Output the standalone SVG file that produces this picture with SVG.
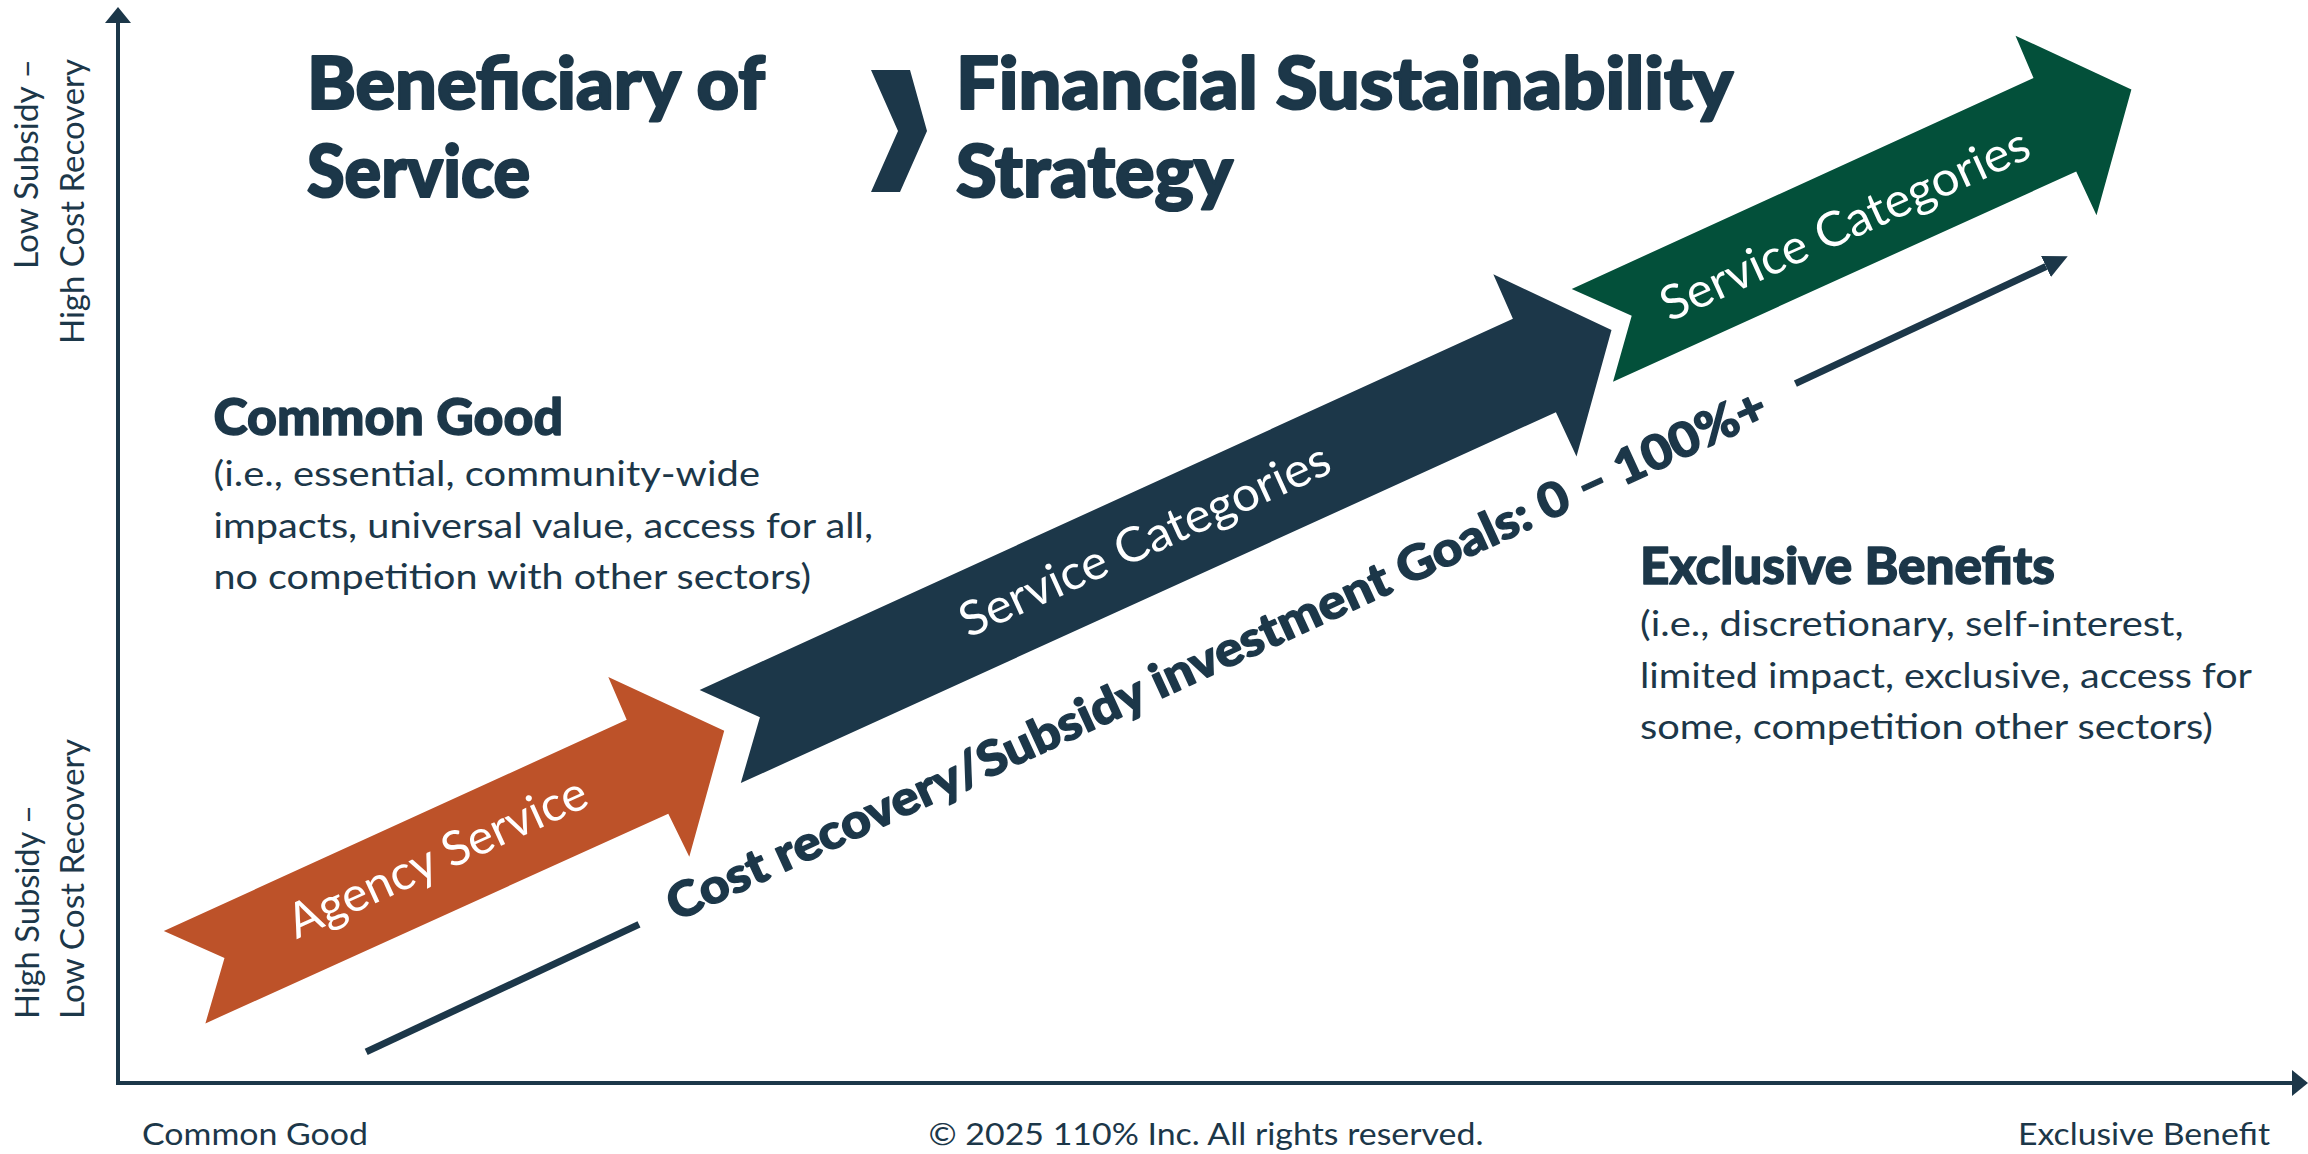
<svg xmlns="http://www.w3.org/2000/svg" width="2308" height="1154" viewBox="0 0 2308 1154">
  <style>
    .navy { fill: #1C3749; }
    .orange { fill: #BD5229; }
    .green { fill: #03503A; }
    .title { font-family: Lato, "Liberation Sans", sans-serif; font-weight: 900; font-size: 72px; fill: #1C3749; stroke: #1C3749; stroke-width: 2.2px; stroke-linejoin: round; }
    .head { font-family: Lato, "Liberation Sans", sans-serif; font-weight: 900; font-size: 52px; fill: #1C3749; stroke: #1C3749; stroke-width: 1.4px; stroke-linejoin: round; }
    .body { font-family: Lato, "Liberation Sans", sans-serif; font-size: 35px; fill: #1C3749; }
    .axis-label { font-family: Lato, "Liberation Sans", sans-serif; font-size: 32px; fill: #1C3749; }
    .foot { font-family: Lato, "Liberation Sans", sans-serif; font-size: 31px; fill: #1C3749; }
    .arrow-label { font-family: Lato, "Liberation Sans", sans-serif; font-size: 48px; fill: #FFFFFF; }
    .goal { font-family: Lato, "Liberation Sans", sans-serif; font-weight: 900; font-size: 48px; fill: #1C3749; stroke: #1C3749; stroke-width: 1.4px; stroke-linejoin: round; }
    .axis { stroke: #1C3749; stroke-width: 4; fill: none; }
    .conn { stroke: #1C3749; stroke-width: 7; fill: none; stroke-linecap: butt; }
  </style>
  <defs>
    <marker id="axisHead" markerUnits="userSpaceOnUse" viewBox="0 0 16 26" refX="0" refY="13" markerWidth="16" markerHeight="26" orient="auto">
      <path d="M0,0 L16,13 L0,26 z" fill="#1C3749"/>
    </marker>
    <marker id="connHead" markerUnits="userSpaceOnUse" viewBox="0 0 24 24" refX="0" refY="12" markerWidth="24" markerHeight="24" orient="auto">
      <path d="M0,0.4 L24,12 L0,23.6 z" fill="#1C3749"/>
    </marker>
  </defs>

  <rect x="0" y="0" width="2308" height="1154" fill="#FFFFFF"/>

  <!-- Axes -->
  <g id="axes">
    <line class="axis" x1="118" y1="1085" x2="118" y2="23" marker-end="url(#axisHead)"/>
    <line class="axis" x1="116" y1="1083" x2="2292" y2="1083" marker-end="url(#axisHead)"/>
  </g>

  <!-- Axis labels -->
  <g id="y-axis-top-label">
    <text class="axis-label" transform="translate(38,59) rotate(-90)" text-anchor="end" textLength="210" lengthAdjust="spacingAndGlyphs">Low Subsidy –</text>
    <text class="axis-label" transform="translate(84,59) rotate(-90)" text-anchor="end" textLength="285" lengthAdjust="spacingAndGlyphs">High Cost Recovery</text>
  </g>
  <g id="y-axis-bottom-label">
    <text class="axis-label" transform="translate(38.5,1019) rotate(-90)" text-anchor="start" textLength="214" lengthAdjust="spacingAndGlyphs">High Subsidy –</text>
    <text class="axis-label" transform="translate(84,1019) rotate(-90)" text-anchor="start" textLength="280" lengthAdjust="spacingAndGlyphs">Low Cost Recovery</text>
  </g>
  <g id="x-axis-labels">
    <text class="foot" x="142" y="1145" textLength="226" lengthAdjust="spacingAndGlyphs">Common Good</text>
    <text class="foot" x="928.5" y="1145" textLength="555" lengthAdjust="spacingAndGlyphs">© 2025 110% Inc. All rights reserved.</text>
    <text class="foot" x="2018" y="1145" textLength="252" lengthAdjust="spacingAndGlyphs">Exclusive Benefit</text>
  </g>

  <!-- Title -->
  <g id="title-beneficiary">
    <text class="title" x="307" y="109" textLength="458" lengthAdjust="spacingAndGlyphs">Beneficiary of</text>
    <text class="title" x="307" y="197" textLength="223" lengthAdjust="spacingAndGlyphs">Service</text>
  </g>
  <g id="title-chevron">
    <polygon class="navy" points="871,70 910,70 927,131 900,192 871,192 898,131"/>
  </g>
  <g id="title-strategy">
    <text class="title" x="956" y="109" textLength="777" lengthAdjust="spacingAndGlyphs">Financial Sustainability</text>
    <text class="title" x="956" y="197" textLength="277" lengthAdjust="spacingAndGlyphs">Strategy</text>
  </g>

  <!-- Common Good block -->
  <g id="common-good">
    <text class="head" x="213.5" y="435" textLength="349.5" lengthAdjust="spacingAndGlyphs">Common Good</text>
    <text class="body" x="213.5" y="486" textLength="546.5" lengthAdjust="spacingAndGlyphs">(i.e., essential, community-wide</text>
    <text class="body" x="213.5" y="537.5" textLength="659.5" lengthAdjust="spacingAndGlyphs">impacts, universal value, access for all,</text>
    <text class="body" x="213.5" y="589" textLength="597.5" lengthAdjust="spacingAndGlyphs">no competition with other sectors)</text>
  </g>

  <!-- Exclusive Benefits block -->
  <g id="exclusive-benefits">
    <text class="head" x="1640" y="583.5" textLength="415" lengthAdjust="spacingAndGlyphs">Exclusive Benefits</text>
    <text class="body" x="1640" y="636" textLength="543.5" lengthAdjust="spacingAndGlyphs">(i.e., discretionary, self-interest,</text>
    <text class="body" x="1640" y="687.5" textLength="612" lengthAdjust="spacingAndGlyphs">limited impact, exclusive, access for</text>
    <text class="body" x="1640" y="739" textLength="573" lengthAdjust="spacingAndGlyphs">some, competition other sectors)</text>
  </g>

  <!-- Agency Service arrow -->
  <g id="agency-service">
    <polygon class="orange" points="163.8,931 626.7,719.8 608.3,677.1 724.2,730.8 689.3,856.7 668.3,813.7 205.4,1023.4 224.5,958"/>
    <text class="arrow-label" transform="translate(444,872) rotate(-24.5)" text-anchor="middle" textLength="324" lengthAdjust="spacingAndGlyphs">Agency Service</text>
  </g>

  <!-- Service Categories (navy) arrow -->
  <g id="service-categories-1">
    <polygon class="navy" points="699.6,690 1512.9,318.7 1493.3,274.2 1611.5,330.1 1576.5,456.4 1555.9,412.2 740.8,783.1 759.9,717.2"/>
    <text class="arrow-label" transform="translate(1151.4,554.8) rotate(-24.5)" text-anchor="middle" textLength="402" lengthAdjust="spacingAndGlyphs">Service Categories</text>
  </g>

  <!-- Service Categories (green) arrow -->
  <g id="service-categories-2">
    <polygon class="green" points="1571.7,288.9 2033.5,78 2015.5,35.7 2131.4,89.4 2096.5,215.3 2076.2,171.5 1613,381.7 1631.7,315.8"/>
    <text class="arrow-label" transform="translate(1851.6,239.4) rotate(-24.5)" text-anchor="middle" textLength="400" lengthAdjust="spacingAndGlyphs">Service Categories</text>
  </g>

  <!-- Connector: cost recovery trend -->
  <g id="connectors">
    <line class="conn" x1="366.2" y1="1051.8" x2="639" y2="924.3"/>
    <line class="conn" x1="1795.4" y1="383.6" x2="2046" y2="266.5" marker-end="url(#connHead)"/>
    <text class="goal" transform="translate(676,921.8) rotate(-24.7)" text-anchor="start" textLength="1205" lengthAdjust="spacingAndGlyphs">Cost recovery/Subsidy investment Goals: 0 – 100%+</text>
  </g>
</svg>
